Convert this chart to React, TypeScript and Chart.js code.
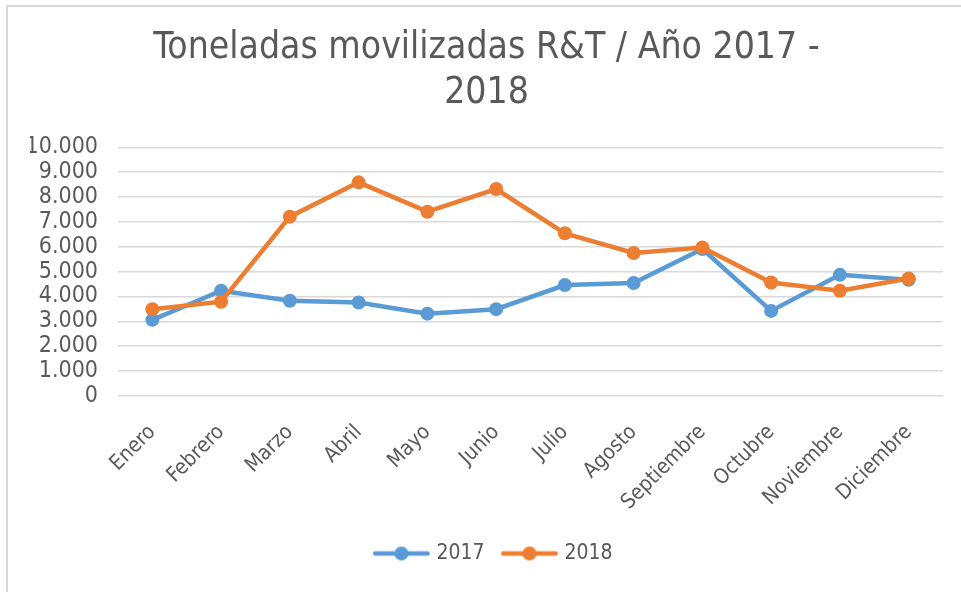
import React, { useEffect, useRef } from "react";
import { Chart, registerables } from "chart.js";

Chart.register(...registerables);

const months = [
  "Enero", "Febrero", "Marzo", "Abril", "Mayo", "Junio",
  "Julio", "Agosto", "Septiembre", "Octubre", "Noviembre", "Diciembre",
];
const values2017 = [3060, 4230, 3830, 3760, 3310, 3490, 4460, 4540, 5910, 3420, 4870, 4670];
const values2018 = [3490, 3790, 7210, 8590, 7410, 8320, 6540, 5750, 5970, 4560, 4230, 4720];
const seriesNames = ["2017", "2018"];
const seriesColors = ["#5b9bd5", "#ed7d31"];
const titleLines = ["Toneladas movilizadas R&T / Año 2017 -", "2018"];

const TEXT = "#595959";
const GRID = "#d9d9d9";
const FONT = "'DejaVu Sans Condensed', 'DejaVu Sans', sans-serif";

// legend icon: line with a dot, drawn on the right part of a wider transparent canvas
function legendIcon(color: string): HTMLCanvasElement {
  const c = document.createElement("canvas");
  c.width = 82;
  c.height = 18;
  const ctx = c.getContext("2d")!;
  ctx.strokeStyle = color;
  ctx.lineWidth = 4.5;
  ctx.lineCap = "round";
  ctx.beginPath();
  ctx.moveTo(23, 9);
  ctx.lineTo(75.5, 9);
  ctx.stroke();
  ctx.fillStyle = color;
  ctx.beginPath();
  ctx.arc(49.25, 9, 7, 0, Math.PI * 2);
  ctx.fill();
  return c;
}

export default function App() {
  const ref = useRef<HTMLCanvasElement>(null);
  useEffect(() => {
    const icons = seriesColors.map(legendIcon);
    const data = [values2017, values2018];
    const chart = new Chart(ref.current!, {
      type: "line",
      data: {
        labels: months,
        datasets: seriesNames.map((name, i) => ({
          label: name,
          data: data[i],
          borderColor: seriesColors[i],
          backgroundColor: seriesColors[i],
          borderWidth: 4.5,
          pointRadius: 7,
          pointHoverRadius: 7,
          pointBorderWidth: 0,
          tension: 0,
          order: seriesNames.length - i,
        })),
      },
      options: {
        responsive: false,
        animation: false,
        layout: { padding: { left: 30, right: 18, bottom: 18 } },
        plugins: {
          title: {
            display: true,
            text: titleLines,
            color: TEXT,
            font: { family: FONT, size: 37, weight: "normal", lineHeight: 1.22 },
            padding: { top: 26, bottom: 31 },
          },
          legend: {
            position: "bottom",
            labels: {
              usePointStyle: true,
              pointStyleWidth: 65.5,
              color: TEXT,
              font: { family: FONT, size: 21 },
              padding: 4,
              generateLabels: () =>
                seriesNames.map((name, i) => ({
                  text: name,
                  datasetIndex: i,
                  pointStyle: icons[i] as any,
                  fillStyle: seriesColors[i],
                  strokeStyle: seriesColors[i],
                  lineWidth: 0,
                  hidden: false,
                  fontColor: TEXT,
                })),
            },
          },
          tooltip: { enabled: false },
        },
        scales: {
          x: {
            offset: true,
            grid: { display: false, drawTicks: false },
            border: { display: false },
            ticks: {
              color: TEXT,
              font: { family: FONT, size: 21 },
              minRotation: 45,
              maxRotation: 45,
              padding: 24,
              autoSkip: false,
            },
          },
          y: {
            min: 0,
            max: 10000,
            afterFit: (scale: any) => {
              scale.width = 88;
            },
            grid: { color: GRID, lineWidth: 1.5, drawTicks: false },
            border: { display: false },
            ticks: {
              stepSize: 1000,
              autoSkip: false,
              color: TEXT,
              font: { family: FONT, size: 23 },
              padding: 20,
              callback: (v: any) => Number(v).toLocaleString("de-DE"),
            },
          },
        },
      },
    });
    return () => chart.destroy();
  }, []);
  return (
    <div style={{ position: "fixed", left: 0, top: 0, width: 961, height: 592, overflow: "hidden", background: "#fff" }}>
      <div
        style={{
          position: "absolute",
          left: 6,
          top: 5,
          width: 1200,
          height: 900,
          border: "2px solid #d9d9d9",
        }}
      />
      <canvas ref={ref} width={961} height={592} style={{ position: "absolute", left: 0, top: 0, display: "block" }} />
    </div>
  );
}
